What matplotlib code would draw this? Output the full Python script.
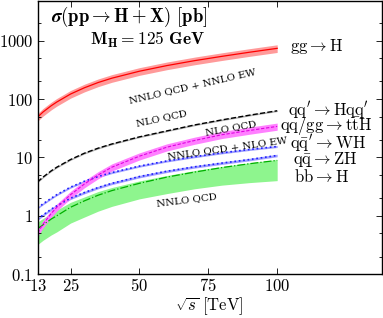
import matplotlib
matplotlib.use("Agg")
import matplotlib.pyplot as plt
import numpy as np
from matplotlib.ticker import FixedLocator, NullFormatter

plt.rcParams['mathtext.fontset'] = 'cm'
plt.rcParams['font.family'] = ['DejaVu Serif']

# energias (TeV) e secoes de choque (pb)
sqrt_s = [13, 15, 18, 20, 25, 30, 35, 40, 50, 60, 70, 80, 90, 100]
ggh = [49, 60, 77, 89, 122, 156, 192, 228, 300, 375, 455, 540, 635, 740]
vbf = [3.8, 4.6, 5.9, 6.8, 9.2, 11.8, 14.4, 17, 22.5, 28.5, 36, 44, 53, 63]
tth = [0.51, 0.72, 1.1, 1.4, 2.3, 3.5, 5.0, 6.8, 10.5, 15, 19.5, 24.5, 29, 34]
wh = [1.37, 1.6, 2.0, 2.3, 3.1, 3.9, 4.7, 5.5, 7.1, 8.7, 10.3, 12, 13.7, 15.4]
zh = [0.88, 1.03, 1.3, 1.48, 2.0, 2.5, 3.05, 3.6, 4.7, 5.8, 6.9, 8.0, 9.2, 10.8]
bbh = [0.6, 0.7, 0.88, 1.0, 1.4, 1.8, 2.25, 2.7, 3.6, 4.6, 5.6, 6.7, 7.8, 8.9]
bbh_up = [0.78, 0.9, 1.1, 1.25, 1.7, 2.1, 2.6, 3.05, 3.95, 4.9, 5.95, 7.0, 8.1, 9.2]
bbh_dn = [0.32, 0.38, 0.47, 0.53, 0.75, 0.95, 1.2, 1.45, 1.95, 2.4, 2.9, 3.35, 3.7, 4.0]

# incertezas relativas das bandas
unc_ggh = 0.15
unc_vbf = 0.03
unc_tth = 0.14
unc_wh = 0.04
unc_zh = 0.05

x_ticks = [13, 25, 50, 75, 100]
y_ticks = [0.1, 1, 10, 100, 1000]
y_labels = ['0.1', '1', '10', '100', '1000']

fig = plt.figure(figsize=(3.83, 3.18), dpi=100)
ax = fig.add_axes([0.098, 0.138, 0.899, 0.859])

s = np.array(sqrt_s)

def banda(y, unc, cor_banda, cor_linha, estilo, lw=0.9):
    y = np.array(y)
    ax.fill_between(s, y * (1 - unc), y * (1 + unc), color=cor_banda, lw=0)
    ax.plot(s, y, color=cor_linha, ls=estilo, lw=lw)

ax.fill_between(s, bbh_dn, bbh_up, color='#8ef58e', lw=0)
ax.plot(s, bbh, color='#00b000', ls='-.', lw=0.9)
banda(zh, unc_zh, '#a0a0ff', '#2020ff', ':', 1.2)
banda(wh, unc_wh, '#a0a0ff', '#2020ff', ':', 1.2)
banda(tth, unc_tth, '#ff80ff', '#e000e0', (0, (3, 1.5)), 0.8)
banda(vbf, unc_vbf, '#b0b0b0', 'black', '--', 1.0)
banda(ggh, unc_ggh, '#ff9a9a', '#ff0000', '-', 0.9)

ax.set_yscale('log')
ax.set_xlim(13, 138)
ax.set_ylim(0.1, 4800)

ax.xaxis.set_major_locator(FixedLocator(x_ticks))
ax.set_xticklabels(['$%d$' % v for v in x_ticks], fontsize=12)
ax.yaxis.set_major_locator(FixedLocator(y_ticks))
ax.set_yticklabels(['$%s$' % v for v in y_labels], fontsize=12)
minor = [m * 10.0 ** e for e in range(-1, 4) for m in (2, 5)]
ax.yaxis.set_minor_locator(FixedLocator(minor))
ax.yaxis.set_minor_formatter(NullFormatter())
ax.tick_params(which='both', direction='in', top=True, right=True, width=0.6)
ax.tick_params(which='major', length=4, pad=3)
ax.tick_params(which='minor', length=2.5)
for sp in ax.spines.values():
    sp.set_linewidth(1.0)

ax.set_xlabel(r'$\sqrt{s}\ \mathrm{[TeV]}$', fontsize=12, labelpad=0)

ax.text(0.04, 0.923, r'$\boldsymbol{\sigma}\mathbf{(pp \to H + X)\ [pb]}$',
        transform=ax.transAxes, fontsize=13.5, va='baseline', ha='left')
ax.text(0.152, 0.84, r'$\mathbf{M_H = 125\ GeV}$',
        transform=ax.transAxes, fontsize=12.5, va='baseline', ha='left')

rot_kw = dict(fontsize=7.3, family='DejaVu Serif', ha='center', va='center')
ax.text(69.4, 170, 'NNLO QCD + NNLO EW', rotation=13, **rot_kw)
ax.text(58, 46, 'NLO QCD', rotation=12, **rot_kw)
ax.text(83, 32, 'NLO QCD', rotation=10, **rot_kw)
ax.text(82, 14.2, 'NNLO QCD + NLO EW', rotation=8, **rot_kw)
ax.text(67, 1.84, 'NNLO QCD', rotation=7, **rot_kw)

lab_kw = dict(fontsize=12, ha='left', va='center')
ax.text(104.6, 789, r'$\mathrm{gg \to H}$', **lab_kw)
ax.text(103.9, 63.6, r"$\mathrm{qq' \to Hqq'}$", **lab_kw)
ax.text(101, 34, r'$\mathrm{qq/gg \to t\bar{t}H}$', **lab_kw)
ax.text(104.6, 17.4, r"$\mathrm{q\bar{q}' \to WH}$", **lab_kw)
ax.text(105.7, 9.2, r'$\mathrm{q\bar{q} \to ZH}$', **lab_kw)
ax.text(106, 4.55, r'$\mathrm{b\bar{b} \to H}$', **lab_kw)

fig.savefig('out.png', dpi=100)
